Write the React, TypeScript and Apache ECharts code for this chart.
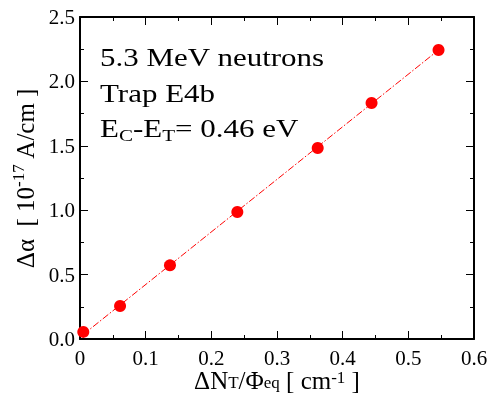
import React, { useEffect, useRef } from "react";
import * as echarts from "echarts";

const xValues = [0.005, 0.061, 0.137, 0.2396, 0.362, 0.444, 0.546];
const yValues = [0.055, 0.256, 0.572, 0.986, 1.483, 1.832, 2.244];
const fitX = [0.005, 0.548];
const fitY = [0.035, 2.252];
const annotationLines = ["5.3 MeV neutrons", "Trap E4b"];

const FONT = "Liberation Serif";

export default function App() {
  const ref = useRef<HTMLDivElement>(null);
  useEffect(() => {
    if (!ref.current) return;
    const chart = echarts.init(ref.current, undefined, { renderer: "svg" });
    const axisCommon = {
      axisLine: { show: true, onZero: false, lineStyle: { color: "#000", width: 2 } },
      axisTick: { show: true, inside: true, length: 8, lineStyle: { color: "#000", width: 1 } },
      minorTick: { show: true, splitNumber: 2, length: 4, lineStyle: { color: "#000", width: 1 } },
      splitLine: { show: false },
    };
    const rich = {
      a: { fontSize: 25, fontFamily: FONT, color: "#000", lineHeight: 30 },
      sub: { fontSize: 17, fontFamily: FONT, color: "#000", lineHeight: 17, verticalAlign: "bottom" },
      sup: { fontSize: 17, fontFamily: FONT, color: "#000", lineHeight: 17, verticalAlign: "top" },
    };
    const xRich = {
      a: { fontSize: 25, fontFamily: FONT, color: "#000", lineHeight: 22 },
      sub: { fontSize: 17, fontFamily: FONT, color: "#000", lineHeight: 8, verticalAlign: "bottom" },
      sup: { fontSize: 17, fontFamily: FONT, color: "#000", lineHeight: 8, verticalAlign: "top" },
    };
    const annRich = {
      a: { fontSize: 25, fontFamily: FONT, color: "#000", lineHeight: 30 },
      sub: { fontSize: 17, fontFamily: FONT, color: "#000", lineHeight: 17, verticalAlign: "bottom" },
    };
    chart.setOption({
      animation: false,
      grid: { left: 80, right: 21, top: 17, bottom: 59, containLabel: false, outerBoundsMode: "none" },
      xAxis: [
        {
          type: "value",
          min: 0,
          max: 0.6,
          interval: 0.1,
          position: "bottom",
          ...axisCommon,
          axisLabel: {
            fontSize: 21,
            fontFamily: FONT,
            color: "#000",
            margin: 8,
            formatter: (v: number) => (v === 0 ? "0" : v.toFixed(1)),
          },
          name: "{a|ΔN}{sub|T}{a|/Φ}{sub|eq}{a| [ cm}{sup|-1}{a| ]}",
          nameLocation: "middle",
          nameGap: 30,
          nameMoveOverlap: false,
          nameTextStyle: { rich: xRich },
        },
        {
          type: "value",
          min: 0,
          max: 0.6,
          interval: 0.1,
          position: "top",
          ...axisCommon,
          axisLabel: { show: false },
        },
      ],
      yAxis: [
        {
          type: "value",
          min: 0,
          max: 2.5,
          interval: 0.5,
          position: "left",
          ...axisCommon,
          axisLabel: {
            fontSize: 21,
            fontFamily: FONT,
            color: "#000",
            margin: 5,
            formatter: (v: number) => v.toFixed(1),
          },
          name: "{a|Δα  [ 10}{sup|-17}{a| A/cm ]}",
          nameLocation: "middle",
          nameGap: 34,
          nameTextStyle: { rich },
        },
        {
          type: "value",
          min: 0,
          max: 2.5,
          interval: 0.5,
          position: "right",
          ...axisCommon,
          axisLabel: { show: false },
        },
      ],
      series: [
        {
          type: "line",
          data: fitX.map((x, i) => [x, fitY[i]]),
          showSymbol: false,
          symbol: "none",
          lineStyle: { color: "#ff0000", width: 1, type: [7, 2, 1.5, 2] },
          silent: true,
        },
        {
          type: "scatter",
          data: xValues.map((x, i) => [x, yValues[i]]),
          symbol: "circle",
          symbolSize: 12,
          itemStyle: { color: "#ff0000", opacity: 1 },
        },
      ],
      graphic: [
        {
          type: "text",
          left: 100,
          top: 45,
          scaleX: 1.24,
          style: { text: annotationLines[0], fontSize: 25, fontFamily: FONT, fill: "#000" },
        },
        {
          type: "text",
          left: 100,
          top: 81,
          scaleX: 1.24,
          style: { text: annotationLines[1], fontSize: 25, fontFamily: FONT, fill: "#000" },
        },
        {
          type: "text",
          left: 100,
          top: 116,
          scaleX: 1.24,
          style: {
            text: "{a|E}{sub|C}{a|-E}{sub|T}{a|= 0.46 eV}",
            rich: annRich,
          },
        },
      ],
    });
    return () => chart.dispose();
  }, []);
  return (
    <div
      ref={ref}
      style={{ position: "fixed", left: 0, top: 0, width: 495, height: 398 }}
    />
  );
}
